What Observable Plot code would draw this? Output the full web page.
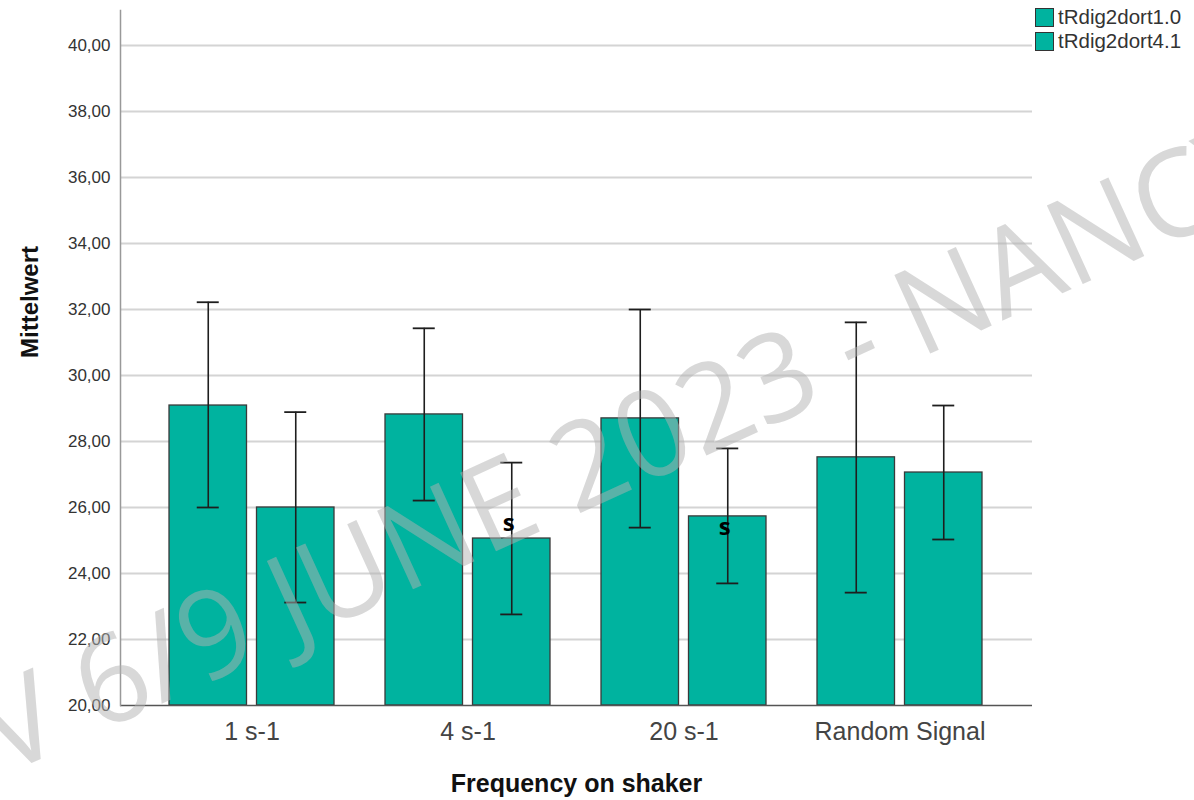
<!DOCTYPE html>
<html>
<head>
<meta charset="utf-8">
<script src="https://cdn.jsdelivr.net/npm/d3@7"></script>
<script src="https://cdn.jsdelivr.net/npm/@observablehq/plot@0.6"></script>
<style>
  html, body { margin: 0; padding: 0; background: #fff; overflow: hidden; }
  #wrap { position: relative; width: 1194px; height: 800px; }
  #wrap svg { overflow: hidden; }
  .legend { position: absolute; left: 1035px; top: 5px; font-family: "Liberation Sans", Arial, sans-serif; font-size: 20.5px; color: #333; }
  .legend .item { display: flex; align-items: center; height: 24px; }
  .legend .sw { width: 19px; height: 19px; border: 1.5px solid #333; margin-right: 4px; box-sizing: border-box; }
</style>
</head>
<body>
<div id="wrap"></div>
<script>
// ---- data ----
const categories = ["1 s-1", "4 s-1", "20 s-1", "Random Signal"];
const seriesNames = ["tRdig2dort1.0", "tRdig2dort4.1"];
const means1 = [29.09, 28.82, 28.70, 27.52];
const lower1 = [26.00, 26.21, 25.39, 23.42];
const upper1 = [32.22, 31.43, 32.00, 31.61];
const means2 = [26.00, 25.06, 25.73, 27.06];
const lower2 = [23.12, 22.76, 23.70, 25.03];
const upper2 = [28.89, 27.36, 27.79, 29.09];
const yTicks = [20, 22, 24, 26, 28, 30, 32, 34, 36, 38, 40];
const annotCategory = ["4 s-1", "20 s-1"];
const annotValue = [25.52, 25.39];
const annotText = ["s", "s"];
const xTitle = ["Frequency on shaker"];
const yTitle = ["Mittelwert"];
const watermark = ["V 6/9 JUNE 2023 - NANCY"];

const colors = ["#00b39f", "#00b39f"];

const rows = categories.flatMap((c, i) => [
  {category: c, series: seriesNames[0], mean: means1[i], lo: lower1[i], hi: upper1[i]},
  {category: c, series: seriesNames[1], mean: means2[i], lo: lower2[i], hi: upper2[i]}
]);
const s1 = rows.filter(d => d.series === seriesNames[0]);
const s2 = rows.filter(d => d.series === seriesNames[1]);
const annots = annotCategory.map((c, i) => ({category: c, value: annotValue[i], text: annotText[i]}));

const yMin = 20, yMax = 41.06;
const fmt = d => d.toFixed(2).replace(".", ",");

const barW = 77.5, groupInset = 87.5, capHalf = 11;
const bandW = 165;
const cA = barW / 2, cB = groupInset + barW / 2;

const chart = Plot.plot({
  width: 1194,
  height: 800,
  marginLeft: 120,
  marginRight: 162,
  marginTop: 10,
  marginBottom: 95,
  style: {fontFamily: "'Liberation Sans', Arial, sans-serif", background: "#fff"},
  x: {domain: categories, paddingInner: 0.236, paddingOuter: 0.229, axis: null},
  y: {domain: [yMin, yMax], axis: null},
  marks: [
    Plot.ruleY(yTicks.filter(t => t > yMin), {stroke: "#d4d4d4", strokeWidth: 2}),
    Plot.barY(s1, {x: "category", y1: () => yMin, y2: "mean", fill: colors[0], stroke: "#3a3a3a", strokeWidth: 1.3, insetLeft: 0, insetRight: bandW - barW}),
    Plot.barY(s2, {x: "category", y1: () => yMin, y2: "mean", fill: colors[1], stroke: "#3a3a3a", strokeWidth: 1.3, insetLeft: groupInset, insetRight: 0}),
    Plot.ruleX(s1, {x: "category", y1: "lo", y2: "hi", dx: cA - bandW / 2, stroke: "#1e1e1e", strokeWidth: 1.6}),
    Plot.ruleX(s2, {x: "category", y1: "lo", y2: "hi", dx: cB - bandW / 2, stroke: "#1e1e1e", strokeWidth: 1.6}),
    Plot.tickY(s1, {x: "category", y: "lo", insetLeft: cA - capHalf, insetRight: bandW - cA - capHalf, stroke: "#1e1e1e", strokeWidth: 1.8}),
    Plot.tickY(s1, {x: "category", y: "hi", insetLeft: cA - capHalf, insetRight: bandW - cA - capHalf, stroke: "#1e1e1e", strokeWidth: 1.8}),
    Plot.tickY(s2, {x: "category", y: "lo", insetLeft: cB - capHalf, insetRight: bandW - cB - capHalf, stroke: "#1e1e1e", strokeWidth: 1.8}),
    Plot.tickY(s2, {x: "category", y: "hi", insetLeft: cB - capHalf, insetRight: bandW - cB - capHalf, stroke: "#1e1e1e", strokeWidth: 1.8}),
    Plot.text(annots, {x: "category", y: "value", text: "text", dx: cB - bandW / 2 - 3, fontSize: 24, fontWeight: "bold", fill: "#000", fontFamily: "'Open Sans', sans-serif"}),
    Plot.ruleY([yMin], {stroke: "#555", strokeWidth: 1.6}),
    Plot.frame({anchor: "left", stroke: "#999", strokeWidth: 1.5}),
    Plot.axisY({ticks: yTicks, tickFormat: fmt, tickSize: 0, tickPadding: 10, fontSize: 17, fill: "#333", label: null}),
    Plot.axisX({tickSize: 0, tickPadding: 17, fontSize: 25, fill: "#444", label: null}),
    Plot.text(xTitle, {frameAnchor: "bottom", text: d => d, dy: 86, fontSize: 25, fontWeight: "bold", fill: "#111"}),
    Plot.text(yTitle, {frameAnchor: "left", text: d => d, dx: -90, rotate: -90, fontSize: 24, fontWeight: "bold", fill: "#111"}),
    Plot.text(watermark, {frameAnchor: "top-left", text: d => d, textAnchor: "middle", lineAnchor: "middle", dx: 628 - 120, dy: 448 - 10, rotate: -24.5, fontSize: 121, fill: "#b2b2b2", fillOpacity: 0.5, fontFamily: "'Open Sans', sans-serif"})
  ]
});

const wrap = document.getElementById("wrap");
wrap.appendChild(chart);

const legend = document.createElement("div");
legend.className = "legend";
seriesNames.forEach((s, i) => {
  const item = document.createElement("div");
  item.className = "item";
  const sw = document.createElement("div");
  sw.className = "sw";
  sw.style.background = colors[i];
  const t = document.createElement("span");
  t.textContent = s;
  item.appendChild(sw);
  item.appendChild(t);
  legend.appendChild(item);
});
wrap.appendChild(legend);
</script>
</body>
</html>
